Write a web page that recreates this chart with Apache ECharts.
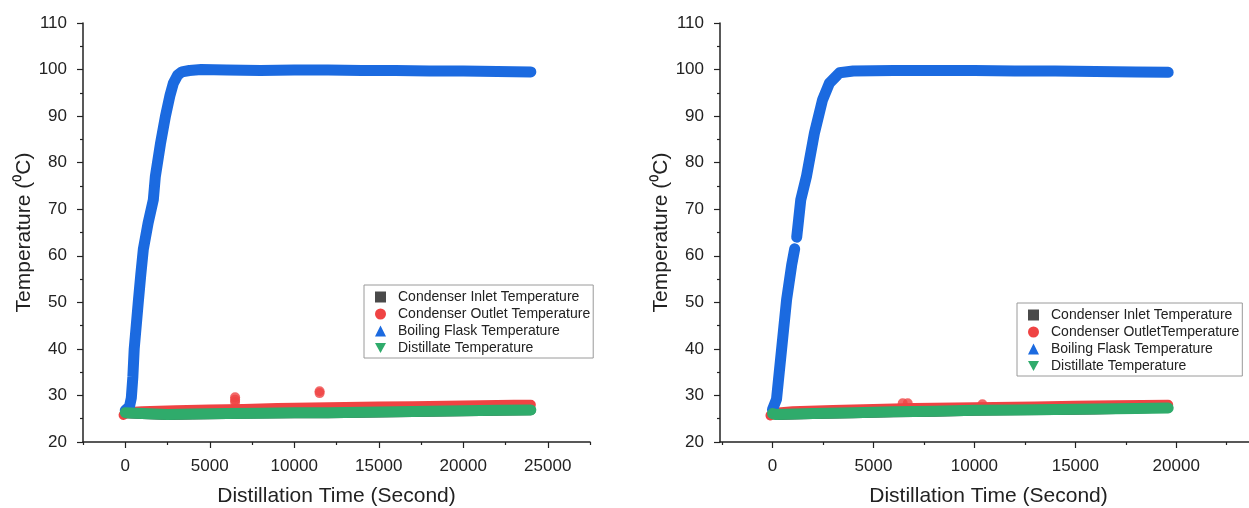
<!DOCTYPE html>
<html>
<head>
<meta charset="utf-8">
<title>Distillation temperatures</title>
<script src="https://cdn.jsdelivr.net/npm/echarts@6/dist/echarts.min.js"></script>
<style>
  html, body { margin: 0; padding: 0; background: #fff; }
  #chart { width: 1249px; height: 508px; }
</style>
</head>
<body>
<div id="chart"></div>
<script>
// ---- data (time in s, temperature in degC) ----
var xMajorTicks = [0, 5000, 10000, 15000, 20000, 25000];
var xMinorTicks = [-2500, 2500, 7500, 12500, 17500, 22500, 27500];
var xLabelsRight = [0, 5000, 10000, 15000, 20000];

// left run
var leftInletTime = [0, 1000, 2500, 4000, 6000, 8000, 10000, 12000, 14000, 16000, 18000, 20000, 22000, 24000];
var leftInletTemp = [26.2, 26.0, 25.8, 25.9, 26.0, 26.1, 26.2, 26.2, 26.3, 26.4, 26.5, 26.6, 26.7, 26.8];
var leftOutletTime = [-100, 100, 1000, 3000, 5000, 7000, 9000, 11000, 13000, 15000, 17000, 19000, 21000, 23000, 24000];
var leftOutletTemp = [25.8, 26.4, 26.6, 26.8, 27.0, 27.1, 27.3, 27.4, 27.5, 27.6, 27.7, 27.8, 27.9, 28.0, 28.0];
var leftOutletSpikeTime = [6500, 6500, 6500, 11500, 11500];
var leftOutletSpikeTemp = [28.6, 29.1, 29.6, 30.5, 30.9];
var leftFlaskTime = [0, 250, 360, 450, 530, 650, 770, 920, 1070, 1350, 1660, 1780, 2080, 2380, 2650, 2850, 3100, 3350, 3800, 4500, 6000, 8000, 10000, 12000, 14000, 16000, 18000, 20000, 22000, 24000];
var leftFlaskTemp = [26.8, 27.6, 29.5, 34, 40, 45, 50, 56, 61.4, 67, 72, 77, 84, 90, 94.5, 97.1, 98.8, 99.5, 99.8, 100, 99.9, 99.8, 99.9, 99.9, 99.8, 99.8, 99.7, 99.7, 99.6, 99.5];
var leftDistTime = [0, 1000, 2500, 4000, 6000, 8000, 10000, 12000, 14000, 16000, 18000, 20000, 22000, 24000];
var leftDistTemp = [26.3, 26.1, 25.9, 26.0, 26.1, 26.2, 26.3, 26.3, 26.4, 26.5, 26.6, 26.7, 26.8, 26.9];

// right run (null = gap in the flask record)
var rightInletTime = [0, 200, 2000, 4000, 6000, 8000, 10000, 12000, 14000, 16000, 18000, 19600];
var rightInletTemp = [26.0, 25.8, 26.0, 26.2, 26.4, 26.5, 26.7, 26.8, 26.9, 27.0, 27.2, 27.4];
var rightOutletTime = [-100, 150, 1000, 3000, 5000, 7000, 9000, 11000, 13000, 15000, 17000, 19600];
var rightOutletTemp = [25.7, 26.3, 26.6, 26.9, 27.1, 27.3, 27.4, 27.5, 27.6, 27.8, 27.9, 28.0];
var rightOutletSpikeTime = [6450, 6700, 10400];
var rightOutletSpikeTemp = [28.3, 28.3, 28.1];
var rightFlaskTime = [0, 200, 450, 700, 950, 1100, 1150, 1200, 1300, 1400, 1680, 2080, 2480, 2820, 3320, 4000, 6000, 8000, 10000, 12000, 14000, 16000, 18000, 19600];
var rightFlaskTemp = [27, 29.2, 39.9, 50.6, 58, 61.5, null, 64, 68, 72, 77, 86.4, 93.5, 97.1, 99.3, 99.7, 99.8, 99.8, 99.8, 99.7, 99.7, 99.6, 99.5, 99.4];
var rightDistTime = [0, 200, 2000, 4000, 6000, 8000, 10000, 12000, 14000, 16000, 18000, 19600];
var rightDistTemp = [26.1, 25.9, 26.1, 26.3, 26.5, 26.6, 26.8, 26.9, 27.0, 27.1, 27.2, 27.3];

var leftNames = ['Condenser Inlet Temperature', 'Condenser Outlet Temperature', 'Boiling Flask Temperature', 'Distillate Temperature'];
var rightNames = ['Condenser Inlet Temperature', 'Condenser OutletTemperature', 'Boiling Flask Temperature', 'Distillate Temperature'];

// ---- styling ----
var cBlack = '#4a4a4a', cRed = '#ef4343', cBlue = '#1b6ae0', cGreen = '#2fab6b';
var font = 'Arial, "Liberation Sans", sans-serif';
var icons = ['rect', 'circle', 'triangle', 'path://M0,0L10,0L5,9Z'];

function zip(xs, ys) {
  return xs.map(function (x, i) { return [x, ys[i] == null ? '-' : ys[i]]; });
}

function band(name, xi, color, xs, ys, w) {
  return {
    name: name, type: 'line', xAxisIndex: xi, yAxisIndex: xi / 2,
    data: zip(xs, ys), showSymbol: false, symbol: 'none', connectNulls: false,
    itemStyle: { color: color },
    lineStyle: { color: color, width: w, cap: 'round', join: 'round' }
  };
}
function dots(name, xi, color, xs, ys) {
  return {
    name: name, type: 'scatter', xAxisIndex: xi, yAxisIndex: xi / 2,
    data: zip(xs, ys), symbol: 'circle', symbolSize: 10,
    itemStyle: { color: color }
  };
}

function plain(v) { return String(v); }

function xMain(gi, min, max, labels) {
  return {
    type: 'value', gridIndex: gi, min: min, max: max, position: 'bottom',
    name: 'Distillation Time (Second)', nameLocation: 'middle', nameGap: 44,
    nameTextStyle: { fontFamily: font, fontSize: 21, color: '#222' },
    axisLine: { onZero: false, lineStyle: { color: '#222', width: 1.5 } },
    axisTick: { show: true, customValues: xMajorTicks, length: 6, lineStyle: { color: '#222', width: 1.2 } },
    axisLabel: { customValues: labels, formatter: plain, margin: 16, fontFamily: font, fontSize: 17, color: '#222' },
    splitLine: { show: false }
  };
}
function xMinor(gi, min, max) {
  return {
    type: 'value', gridIndex: gi, min: min, max: max, position: 'bottom',
    axisLine: { show: false, onZero: false }, axisLabel: { show: false }, splitLine: { show: false },
    axisTick: { show: true, customValues: xMinorTicks, length: 3, lineStyle: { color: '#222', width: 1.2 } }
  };
}
function yAxisFor(gi) {
  return {
    type: 'value', gridIndex: gi, min: 20, max: 110, interval: 10, position: 'left',
    name: 'Temperature (\u2070C)', nameLocation: 'middle', nameGap: 48, nameRotate: 90,
    nameTextStyle: { fontFamily: font, fontSize: 21, color: '#222' },
    axisLine: { show: true, onZero: false, lineStyle: { color: '#222', width: 1.5 } },
    axisTick: { show: true, length: 6, lineStyle: { color: '#222', width: 1.2 } },
    minorTick: { show: true, splitNumber: 2, length: 3, lineStyle: { color: '#222', width: 1.2 } },
    axisLabel: { margin: 16, formatter: plain, fontFamily: font, fontSize: 17, color: '#222' },
    splitLine: { show: false }, minorSplitLine: { show: false }
  };
}
function legendFor(names, left, top) {
  return {
    orient: 'vertical', left: left, top: top,
    padding: [4, 3, 2, 11], itemGap: 1, itemWidth: 11, itemHeight: 11,
    borderColor: '#9a9a9a', borderWidth: 1, backgroundColor: '#fff',
    textStyle: { fontFamily: font, fontSize: 14, color: '#222', lineHeight: 16, padding: [0, 0, 0, 7] },
    data: names.map(function (n, i) { return { name: n, icon: icons[i] }; }),
    selectedMode: false
  };
}

var myChart = echarts.init(document.getElementById('chart'));
var option = {
  animation: false,
  backgroundColor: '#fff',
  grid: [
    { left: 83, top: 23, width: 507, height: 419, outerBoundsMode: 'none' },
    { left: 720, top: 23, width: 537, height: 419, outerBoundsMode: 'none' }
  ],
  xAxis: [
    xMain(0, -2500, 27500, xMajorTicks), xMinor(0, -2500, 27500),
    xMain(1, -2600, 24000, xLabelsRight), xMinor(1, -2600, 24000)
  ],
  yAxis: [yAxisFor(0), yAxisFor(1)],
  legend: [legendFor(leftNames, 364, 285), legendFor(rightNames, 1017, 303)],
  series: [
    band(leftNames[0], 0, cBlack, leftInletTime, leftInletTemp, 10),
    band(leftNames[1], 0, cRed, leftOutletTime, leftOutletTemp, 10),
    dots(leftNames[1], 0, cRed, leftOutletSpikeTime, leftOutletSpikeTemp),
    band(leftNames[2], 0, cBlue, leftFlaskTime, leftFlaskTemp, 11),
    band(leftNames[3], 0, cGreen, leftDistTime, leftDistTemp, 11),

    band(rightNames[0], 2, cBlack, rightInletTime, rightInletTemp, 10),
    band(rightNames[1], 2, cRed, rightOutletTime, rightOutletTemp, 10),
    dots(rightNames[1], 2, cRed, rightOutletSpikeTime, rightOutletSpikeTemp),
    band(rightNames[2], 2, cBlue, rightFlaskTime, rightFlaskTemp, 11),
    band(rightNames[3], 2, cGreen, rightDistTime, rightDistTemp, 11)
  ]
};
myChart.setOption(option);
</script>
</body>
</html>
